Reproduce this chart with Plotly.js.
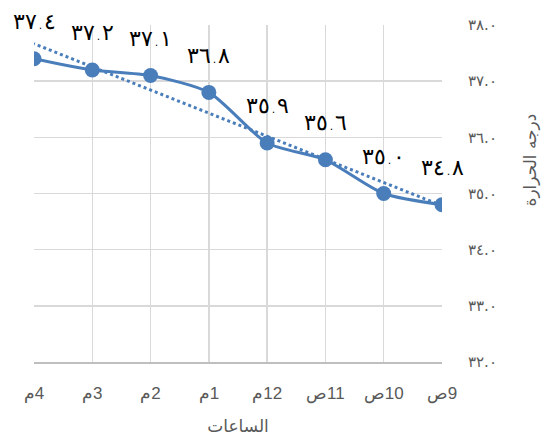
<!DOCTYPE html>
<html>
<head>
<meta charset="utf-8">
<script src="https://cdn.plot.ly/plotly-3.0.1.min.js"></script>
<style>html,body{margin:0;padding:0;background:#fff;}#chart{width:544px;height:436px;}</style>
</head>
<body>
<div id="chart"></div>
<script>
// Categories in chronological order (drawn right-to-left)
const hours = ["9ص", "10ص", "11ص", "12م", "1م", "2م", "3م", "4م"];
// Temperatures
const temps = [34.8, 35.0, 35.6, 35.9, 36.8, 37.1, 37.2, 37.4];
// Y-axis ticks
const yTicks = [32, 33, 34, 35, 36, 37, 38];
const yTickText = ["٣٢.٠", "٣٣.٠", "٣٤.٠", "٣٥.٠", "٣٦.٠", "٣٧.٠", "٣٨.٠"];
const xTitle = "الساعات";
const yTitle = "درجه الحرارة";

const toArabic = s => s.replace(/[0-9]/g, d => "٠١٢٣٤٥٦٧٨٩"[+d]);
const labelText = temps.map(v => toArabic(v.toFixed(1)));

// linear trendline (least squares over category index)
const n = temps.length;
const xs = hours.map((_, i) => i);
const mx = xs.reduce((a, b) => a + b, 0) / n;
const my = temps.reduce((a, b) => a + b, 0) / n;
let sxy = 0, sxx = 0;
for (let i = 0; i < n; i++) { sxy += (xs[i] - mx) * (temps[i] - my); sxx += (xs[i] - mx) ** 2; }
const slope = sxy / sxx, icpt = my - slope * mx;
const trend = xs.map(x => icpt + slope * x);

const blue = "#4a7ebb";
const gray = "#595959";

const traces = [
  {
    x: hours, y: trend, type: "scatter", mode: "lines",
    line: {color: blue, width: 3, dash: "dot"}, hoverinfo: "skip", showlegend: false
  },
  {
    x: hours, y: temps, type: "scatter", mode: "lines+markers",
    line: {color: blue, width: 3, shape: "spline", smoothing: 0.7},
    marker: {color: blue, size: 15}, showlegend: false
  }
];

const annotations = hours.map((h, i) => ({
  x: h, y: temps[i], xref: "x", yref: "y", text: labelText[i],
  showarrow: false, yshift: 37, xshift: 0,
  font: {family: "DejaVu Sans, sans-serif", size: 22, color: "#000", weight: 300}
}));
annotations.push({
  xref: "paper", yref: "paper", x: 1.215, y: 0.6, xanchor: "center", yanchor: "middle",
  text: yTitle, textangle: -90,
  showarrow: false, font: {family: "DejaVu Sans, sans-serif", size: 17, color: gray}
});

const layout = {
  width: 544, height: 436,
  margin: {l: 34, r: 102, t: 25, b: 74},
  paper_bgcolor: "#fff", plot_bgcolor: "#fff",
  xaxis: {
    type: "category", range: [7, 0],
    tickvals: hours, ticktext: hours.map(h => "\u202B" + h + "\u202C"),
    showgrid: true, gridcolor: "#d9d9d9", gridwidth: 1.5,
    showline: true, linecolor: "#bfbfbf", linewidth: 1.5,
    ticks: "outside", ticklen: 15, tickcolor: "rgba(0,0,0,0)",
    tickfont: {family: "Liberation Sans, Arial, sans-serif", size: 17, color: gray},
    zeroline: false,
    title: {text: xTitle, standoff: 22, font: {family: "DejaVu Sans, sans-serif", size: 17, color: gray}}
  },
  yaxis: {
    side: "right", range: [32, 38],
    tickvals: yTicks, ticktext: yTickText,
    showgrid: true, gridcolor: "#d9d9d9", gridwidth: 1.5,
    showline: false, zeroline: false,
    ticks: "outside", ticklen: 22, tickcolor: "rgba(0,0,0,0)",
    tickfont: {family: "DejaVu Sans, sans-serif", size: 15, color: gray}
  },
  annotations: annotations
};

Plotly.newPlot("chart", traces, layout, {displayModeBar: false, staticPlot: true});
</script>
</body>
</html>
